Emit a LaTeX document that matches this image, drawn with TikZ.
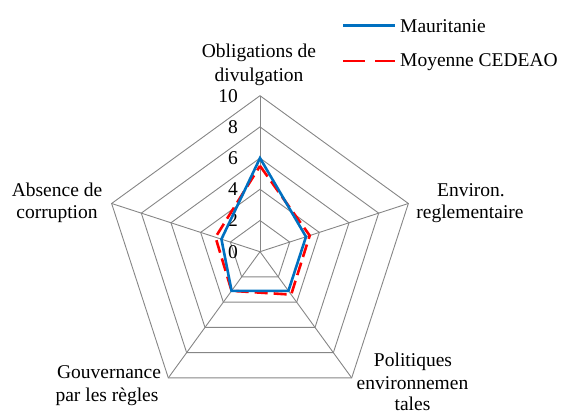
\documentclass[tikz,border=0pt]{standalone}
\usepackage{fontspec}
\setmainfont{Liberation Serif}
\newfontfamily\tnr{Liberation Serif}
\definecolor{mblue}{RGB}{0,112,192}
\definecolor{gridgray}{RGB}{134,134,134}
\begin{document}
\begin{tikzpicture}[x=1pt,y=1pt,
  gridline/.style={draw=gridgray,line width=0.9pt,line join=miter},
  serieA/.style={draw=mblue,line width=2.6pt,line join=miter},
  serieB/.style={draw=red,line width=2.6pt,dash pattern=on 13pt off 6pt,line join=miter},
  lbl/.style={font=\tnr\fontsize{19.5}{22.5}\selectfont,inner sep=0pt,anchor=base},
  tick/.style={font=\tnr\fontsize{19.5}{22.5}\selectfont,inner sep=0pt,anchor=east},
  leg/.style={font=\tnr\fontsize{19.5}{22.5}\selectfont,inner sep=0pt,anchor=base west},
  ]
\useasboundingbox (0,0) rectangle (565,413);
\begin{scope}[shift={(260,161.3)}]
  \coordinate (c) at (0,0);
  % grid pentagons
  \foreach \r in {2,4,6,8,10} {
    \draw[gridline] (90:\r*15.6) -- (18:\r*15.6) -- (-54:\r*15.6) -- (-126:\r*15.6) -- (162:\r*15.6) -- cycle;
  }
  \coordinate (v1) at (90:156);
  \coordinate (v2) at (18:156);
  \coordinate (v3) at (-54:156);
  \coordinate (v4) at (-126:156);
  \coordinate (v5) at (162:156);
  \foreach \i in {1,...,5} { \draw[gridline] (c) -- (v\i); }
  % tick labels
  \foreach \r in {0,2,4,6,8,10} {
    \node[tick] (t\r) at (-22,\r*15.6) {\r};
  }
  % data
  \coordinate (b1) at (90:5.5*15.6);
  \coordinate (b2) at (18:3.35*15.6);
  \coordinate (b3) at (-54:3.4*15.6);
  \coordinate (b4) at (-126:3.1*15.6);
  \coordinate (b5) at (162:3.0*15.6);
  \coordinate (a1) at (90:6.0*15.6);
  \coordinate (a2) at (18:3.1*15.6);
  \coordinate (a3) at (-54:3.1*15.6);
  \coordinate (a4) at (-126:3.1*15.6);
  \coordinate (a5) at (162:2.6*15.6);
  \draw[serieB] (b1) -- (b2) -- (b3) -- (b4) -- (b5) -- cycle;
  \draw[serieA] (a1) -- (a2) -- (a3) -- (a4) -- (a5) -- cycle;
\end{scope}
% axis labels
\node[lbl] (l1a) at (259,355) {Obligations de};
\node[lbl] (l1b) at (259,331.5) {divulgation};
\node[lbl] (l2a) at (471,216.3) {Environ.};
\node[lbl] (l2b) at (470,194.7) {reglementaire};
\node[lbl] (l3a) at (413,46.5) {Politiques};
\node[lbl] (l3b) at (412.5,24) {environnemen};
\node[lbl] (l3c) at (412.5,2.5) {tales};
\node[lbl] (l4a) at (109,34.5) {Gouvernance};
\node[lbl] (l4b) at (107,11.5) {par les règles};
\node[lbl] (l5a) at (57,216.3) {Absence de};
\node[lbl] (l5b) at (57,194.7) {corruption};
% legend
\coordinate (la1) at (343,387.3);
\coordinate (la2) at (395,387.3);
\coordinate (lb1) at (343,352);
\coordinate (lb2) at (395,352);
\draw[draw=mblue,line width=2.6pt] (la1) -- (la2);
\draw[draw=red,line width=2.6pt,dash pattern=on 22pt off 10pt] (lb1) -- (lb2);
\node[leg] (ta) at (400,380) {Mauritanie};
\node[leg] (tb) at (400,346.5) {Moyenne CEDEAO};
\end{tikzpicture}
\end{document}
